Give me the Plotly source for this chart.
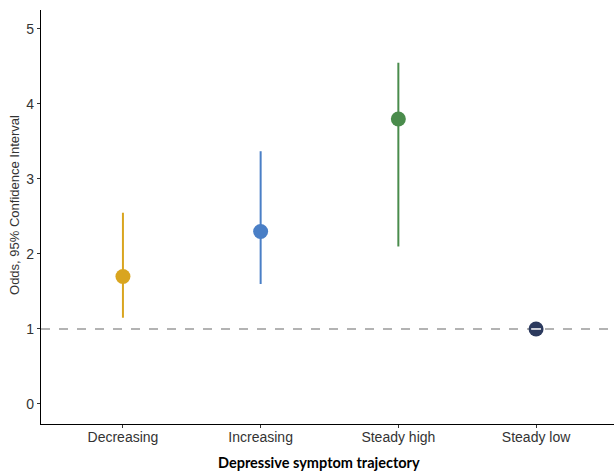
import plotly.graph_objects as go

categories = ["Decreasing", "Increasing", "Steady high", "Steady low"]
odds = [1.7, 2.3, 3.8, 1.0]
ci_low = [1.15, 1.6, 2.1, 1.0]
ci_high = [2.55, 3.37, 4.55, 1.0]
colors = ["#D9A51F", "#4A7FC6", "#4A8C4C", "#2C3A5E"]
y_ticks = [0, 1, 2, 3, 4, 5]
reference_odds = 1

fig = go.Figure()
xs = list(range(len(categories)))
for i, c in enumerate(categories):
    if ci_high[i] > ci_low[i]:
        fig.add_trace(go.Scatter(x=[xs[i], xs[i]], y=[ci_low[i], ci_high[i]], mode="lines",
                                 line=dict(color=colors[i], width=2), showlegend=False, hoverinfo="skip"))
fig.add_hline(y=reference_odds, line=dict(color="#9A9A9A", width=1.5, dash="dash"), layer="below")
fig.add_trace(go.Scatter(x=xs, y=odds, mode="markers",
                         marker=dict(color=colors, size=15, line=dict(width=0)), showlegend=False))
# white dash inside the steady-low point
fig.add_trace(go.Scatter(x=[xs[3]], y=[odds[3]], mode="markers",
                         marker=dict(symbol="line-ew", size=7, line=dict(color="white", width=1.5)),
                         showlegend=False, hoverinfo="skip"))

fig.update_layout(
    width=614, height=471,
    margin=dict(l=41, r=0, t=10, b=47),
    plot_bgcolor="white", paper_bgcolor="white",
    font=dict(family="Liberation Sans, Arial", size=14, color="#333333"),
    annotations=[
        dict(text="<b>Depressive symptom trajectory</b>", xref="paper", yref="paper",
             x=0.485, y=-0.0942, xanchor="center", yanchor="middle", showarrow=False,
             font=dict(family="Lato, Open Sans", size=14.5, color="black")),
        dict(text="Odds, 95% Confidence Interval", xref="paper", yref="paper",
             x=-0.0454, y=0.529, xanchor="center", yanchor="middle", textangle=-90, showarrow=False,
             font=dict(family="Liberation Sans, Arial", size=13, color="#333333")),
    ],
)
fig.update_xaxes(
    range=[-0.595, 3.566], tickmode="array", tickvals=xs, ticktext=categories,
    showline=True, linecolor="black", linewidth=1.2, ticks="outside", ticklen=3, tickcolor="#333333",
    showgrid=False, zeroline=False, tickfont=dict(size=14, color="#333333"), automargin=False,
    ticklabelstandoff=-3,
)
fig.update_yaxes(
    range=[-0.267, 5.253], tickmode="array", tickvals=y_ticks,
    showline=True, linecolor="black", linewidth=1.2, ticks="outside", ticklen=3, tickcolor="#333333",
    showgrid=False, zeroline=False, tickfont=dict(size=14, color="#333333"), automargin=False,
)
fig.write_html("out.html", config={"displayModeBar": False},
               post_script="document.body.style.margin='0';document.body.style.overflow='hidden';")
